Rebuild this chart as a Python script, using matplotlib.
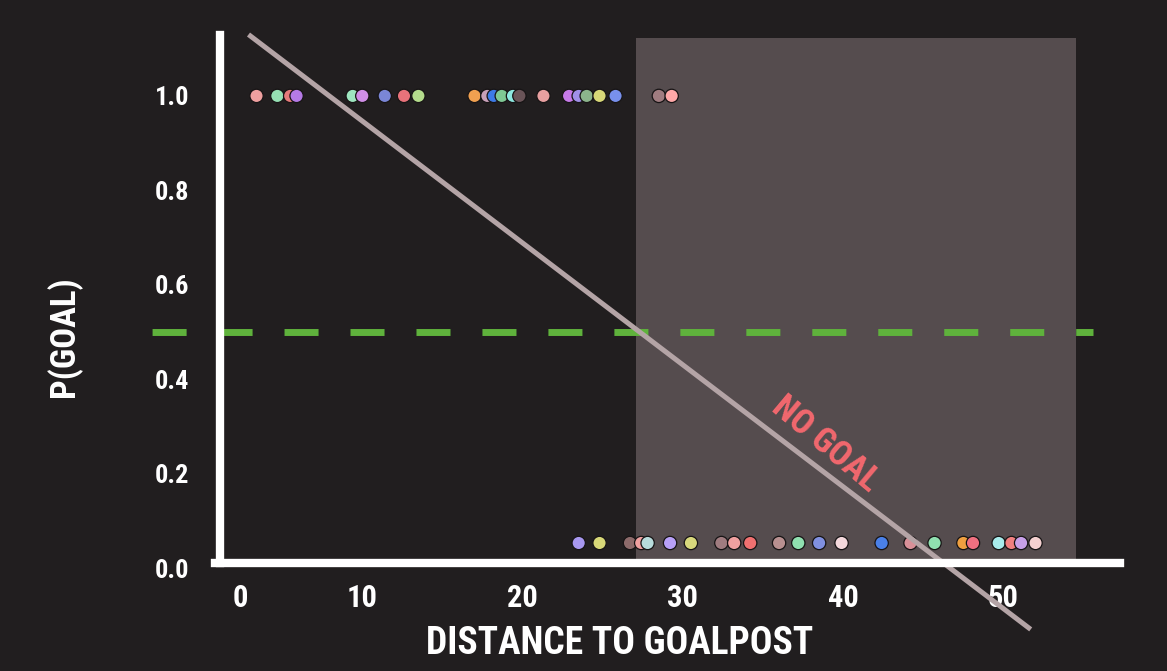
import matplotlib
matplotlib.use("Agg")
import matplotlib.pyplot as plt
from matplotlib import font_manager
from matplotlib.patches import Rectangle

# ---------------- data ----------------
goal_x = [3.4, 4.7, 5.5, 5.9, 9.4, 10.0, 11.4, 12.6, 13.5, 17.0, 17.8, 18.2, 18.7,
          19.4, 19.8, 21.3, 22.9, 23.5, 24.0, 24.8, 25.8, 28.5, 29.3]
goal_colors = ["#efa0a0", "#96e0b4", "#e57a7a", "#b57ae6", "#9ee6c0", "#d08ee6",
               "#7a86d6", "#e8727a", "#b4dc8c", "#f0a050", "#c8a0b8", "#3d7ae6",
               "#7fc894", "#8ee8e0", "#6a5458", "#e8a0a0", "#c77ae8", "#a090e8",
               "#8cb48c", "#d8d878", "#7890ec", "#a07c80", "#ffa8a8"]
nogoal_x = [23.5, 24.8, 26.7, 27.4, 27.8, 29.2, 30.5, 32.4, 33.2, 34.2, 36.0, 37.2,
            38.5, 39.9, 42.4, 44.2, 45.7, 47.5, 48.1, 49.7, 50.5, 51.1, 52.0]
nogoal_colors = ["#a898f0", "#d8d878", "#8c6a6a", "#f0a0a0", "#b8dcdc", "#b8a0f8",
                 "#d8d87c", "#a07c80", "#f0a0a0", "#f07070", "#b89090", "#90e0b0",
                 "#8090e0", "#f4d8dc", "#4a80e8", "#d89098", "#90e0b0", "#f0a040",
                 "#f07080", "#a8ecec", "#f08080", "#c8a0e8", "#f4d0d0"]
goal_y = 1.0
nogoal_y = 0.053

fit_x = [2.9, 51.7]
fit_y = [1.13, -0.13]
thresh_x = [-4.8, 55.6]
thresh_y = [0.5, 0.5]
region_x = [27.1, 54.5]
region_y = [0.01, 1.123]

xtick_pos = [2.4, 10, 20, 30, 40, 50]
xtick_labels = ["0", "10", "20", "30", "40", "50"]
ytick_pos = [0.0, 0.2, 0.4, 0.6, 0.8, 1.0]
ytick_labels = ["0.0", "0.2", "0.4", "0.6", "0.8", "1.0"]

# ---------------- fonts ----------------
names = {f.name for f in font_manager.fontManager.ttflist}
fam = None
for cand in ["Liberation Sans Narrow", "Roboto Condensed", "Open Sans Condensed"]:
    if cand in names:
        fam = cand
        break
if fam is None:
    fam = "DejaVu Sans"
FONT = dict(family=[fam, "DejaVu Sans"], weight="bold", stretch="condensed")

BG = "#211e1f"
W, H = 1167, 671
fig = plt.figure(figsize=(W / 100, H / 100), dpi=100, facecolor=BG)
ax = fig.add_axes([215 / W, 1 - 580 / H, 905 / W, 545 / H])
ax.set_facecolor(BG)
ax.set_xlim(0.81, 57.27)
ax.set_ylim(-0.0254, 1.129)

# shaded "no goal" region
ax.add_patch(Rectangle((region_x[0], region_y[0]), region_x[1] - region_x[0],
                       region_y[1] - region_y[0], facecolor="#554c4e",
                       edgecolor="none", zorder=1))

# threshold
ax.plot(thresh_x, thresh_y, color="#5fb23c", lw=5,
        linestyle=(5.6, (4.9, 4.6)), clip_on=False, zorder=2,
        solid_capstyle="butt", dash_capstyle="butt")

# points
ax.scatter(goal_x, [goal_y] * len(goal_x), s=92, c=goal_colors,
           edgecolors="#171415", linewidths=0.9, zorder=3, clip_on=False)
ax.scatter(nogoal_x, [nogoal_y] * len(nogoal_x), s=92, c=nogoal_colors,
           edgecolors="#171415", linewidths=0.9, zorder=3, clip_on=False)

# fitted line
ax.plot(fit_x, fit_y, color="#b4a4a6", lw=3.6, solid_capstyle="butt",
        clip_on=False, zorder=4)

ax.text(38.9, 0.262, "NO GOAL", color="#f2686e", fontsize=25, rotation=-40,
        rotation_mode="anchor", ha="center", va="center", zorder=5, **FONT)

# spines
for s in ["top", "right"]:
    ax.spines[s].set_visible(False)
ax.spines["left"].set_position(("data", 1.1))
ax.spines["bottom"].set_position(("data", 0.01))
ax.spines["left"].set_bounds(0.01, 1.129)
ax.spines["left"].set_color("white")
ax.spines["bottom"].set_color("white")
ax.spines["left"].set_linewidth(6)
ax.spines["bottom"].set_linewidth(6)
ax.spines["left"].set_zorder(6)
ax.spines["bottom"].set_zorder(6)

ax.set_xticks(xtick_pos)
ax.set_xticklabels(xtick_labels, color="white", fontsize=22, **FONT)
ax.set_yticks(ytick_pos)
ax.set_yticklabels(ytick_labels, color="white", fontsize=19, **FONT)
ax.tick_params(axis="x", length=0, pad=14)
ax.tick_params(axis="y", length=0, pad=22)

ax.set_xlabel("DISTANCE TO GOALPOST", color="white", fontsize=27, va="center", **FONT)
ax.xaxis.set_label_coords((620 - 215) / 905, (580 - 643) / 545)
ax.set_ylabel("P(GOAL)", color="white", fontsize=25, va="center", **FONT)
ax.yaxis.set_label_coords((64 - 215) / 905, (580 - 337) / 545)

fig.savefig("out.png", dpi=100, facecolor=BG)
